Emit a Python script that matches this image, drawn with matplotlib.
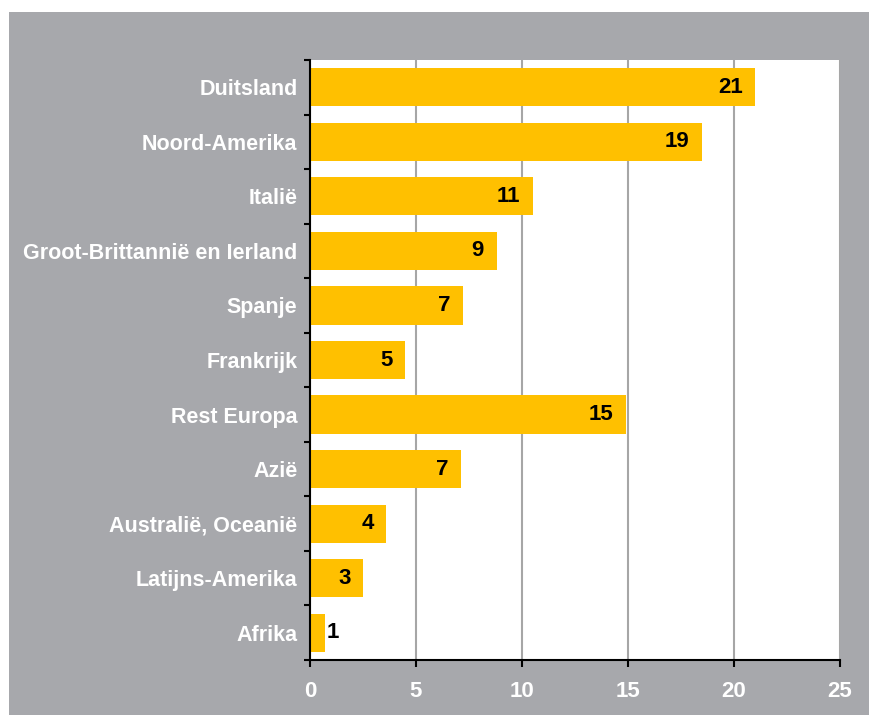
import numpy as np
import matplotlib
matplotlib.use("Agg")
import matplotlib.pyplot as plt
from matplotlib.patches import Rectangle

# data (bar lengths), labels as printed on the bars
regions = ["Duitsland", "Noord-Amerika", "Italië", "Groot-Brittannië en Ierland",
           "Spanje", "Frankrijk", "Rest Europa", "Azië", "Australië, Oceanië",
           "Latijns-Amerika", "Afrika"]
values = [21.0, 18.5, 10.5, 8.8, 7.2, 4.5, 14.9, 7.1, 3.6, 2.5, 0.7]
value_labels = ["21", "19", "11", "9", "7", "5", "15", "7", "4", "3", "1"]
x_ticks = [0, 5, 10, 15, 20, 25]

plt.rcParams["font.family"] = ["Liberation Sans", "DejaVu Sans"]

gray = "#a7a8ac"
bar_color = "#ffc000"

fig = plt.figure(figsize=(8.69, 7.15), dpi=100)
fig.patch.set_facecolor("white")
bg = Rectangle((9 / 869, 0), 1, (715 - 12) / 715, transform=fig.transFigure,
               facecolor=gray, edgecolor="none", zorder=-10)
fig.add_artist(bg)

ax = fig.add_axes([310 / 869, 55 / 715, 530 / 869, 600 / 715])
ax.set_zorder(1)
ax.set_facecolor("white")

y = np.arange(len(regions))
ax.barh(y, values, height=0.7, color=bar_color, zorder=2)

for yi, v, lab in zip(y, values, value_labels):
    if v < 1.5:
        ax.annotate(lab, (v, yi), xytext=(1, 0), textcoords="offset points",
                    ha="left", va="center", fontsize=16, fontweight="bold",
                    color="black", zorder=3)
    else:
        ax.annotate(lab, (v, yi), xytext=(-9, 0), textcoords="offset points",
                    ha="right", va="center", fontsize=16, fontweight="bold",
                    color="black", zorder=3)

ax.set_xlim(0, 25)
ax.set_ylim(len(regions) - 0.5, -0.5)
ax.set_xticks(x_ticks)
ax.set_xticklabels([str(t) for t in x_ticks])
ax.set_yticks(y)
ax.set_yticklabels(regions)
ax.set_yticks(np.arange(len(regions) + 1) - 0.5, minor=True)

ax.xaxis.grid(True, color="#a6a6a6", linewidth=1.5, zorder=1)
ax.set_axisbelow(True)

for s in ["top", "right"]:
    ax.spines[s].set_visible(False)
for s in ["left", "bottom"]:
    ax.spines[s].set_color("black")
    ax.spines[s].set_linewidth(1.5)

ax.tick_params(axis="y", which="major", length=0, pad=9,
               labelcolor="white", labelsize=15.5)
ax.tick_params(axis="y", which="minor", length=4, width=1.5, color="black",
               direction="out")
ax.tick_params(axis="x", which="major", length=5, width=1.5, color="black",
               direction="out", pad=10, labelcolor="white", labelsize=16)
for t in ax.get_yticklabels() + ax.get_xticklabels():
    t.set_fontweight("bold")

fig.savefig("out.png", dpi=100, facecolor=fig.get_facecolor())
